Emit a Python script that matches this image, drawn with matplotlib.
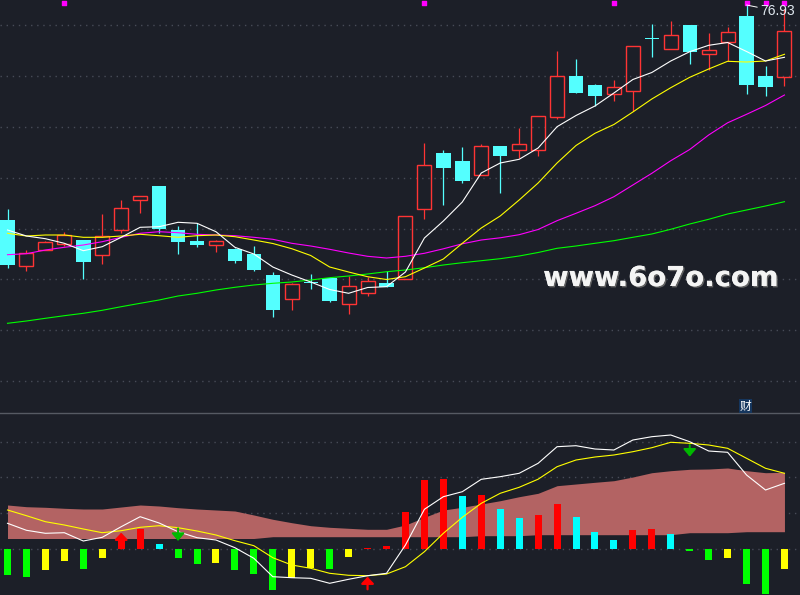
import matplotlib
matplotlib.use('Agg')
import matplotlib.pyplot as plt
import matplotlib.patheffects as pe
from matplotlib.lines import Line2D
import numpy as np

plt.rcParams['font.family'] = ['DejaVu Sans', 'Noto Sans CJK SC']

BG = '#1c1f28'
GRID = '#474b57'
RED = '#ff3434'
CYAN = '#54ffff'

# ---- price panel data ----
opens = [55.43, 50.80, 52.46, 53.06, 53.43, 51.96, 54.40, 57.40, 58.83, 54.43,
         53.33, 52.90, 52.53, 52.03, 49.93, 47.53, 49.23, 49.66, 47.00, 48.10,
         49.13, 49.56, 56.56, 62.13, 61.33, 59.90, 62.83, 62.40, 62.40, 65.76,
         69.80, 68.93, 68.00, 68.30, 73.60, 72.56, 74.93, 72.00, 73.20, 75.83,
         69.80, 69.76]
highs = [56.53, 52.43, 53.33, 54.23, 53.43, 56.03, 57.43, 57.80, 58.83, 54.83,
         55.10, 53.43, 52.63, 52.83, 50.20, 49.10, 50.03, 49.73, 49.86, 49.76,
         50.33, 55.80, 63.13, 62.43, 62.73, 63.03, 62.83, 64.63, 65.80, 72.33,
         71.53, 69.03, 69.43, 72.80, 75.03, 75.33, 74.93, 74.13, 74.73, 76.93,
         70.83, 76.53]
lows = [50.63, 50.33, 52.43, 52.86, 49.53, 51.06, 54.13, 56.16, 54.10, 52.06,
        52.76, 52.26, 51.10, 50.36, 45.70, 46.46, 48.50, 47.26, 46.00, 47.86,
        48.76, 49.56, 55.53, 56.96, 59.16, 59.90, 58.16, 61.60, 61.83, 65.50,
        68.16, 66.83, 67.36, 66.36, 71.76, 72.56, 71.06, 70.43, 71.30, 68.06,
        67.86, 68.86]
closes = [50.93, 52.13, 53.20, 53.93, 51.26, 53.80, 56.60, 57.80, 54.50, 53.26,
          52.96, 53.33, 51.36, 50.46, 46.46, 49.03, 49.17, 47.36, 48.80, 49.30,
          48.76, 55.80, 60.90, 60.66, 59.36, 62.80, 61.86, 63.00, 65.80, 69.80,
          68.16, 67.86, 68.70, 72.80, 73.53, 73.93, 72.26, 72.43, 74.20, 68.93,
          68.76, 74.30]
ma5 = [54.43, 53.83, 53.56, 53.10, 52.36, 52.76, 53.70, 54.70, 54.76, 55.20,
       55.10, 54.26, 52.70, 52.03, 50.73, 49.93, 49.23, 48.48, 48.10, 48.68,
       48.76, 50.23, 53.63, 55.33, 57.23, 60.13, 61.13, 61.50, 62.63, 64.76,
       65.88, 66.83, 68.13, 69.48, 70.18, 71.33, 72.26, 72.90, 73.18, 72.28,
       71.33, 71.70]
ma10 = [54.10, 53.83, 53.93, 53.93, 53.70, 53.70, 53.83, 54.00, 53.86, 53.70,
        53.86, 53.93, 53.76, 53.43, 53.08, 52.56, 51.88, 50.73, 50.23, 49.76,
        49.48, 49.76, 50.63, 51.53, 53.10, 54.63, 55.83, 57.43, 59.13, 61.13,
        62.88, 64.10, 64.98, 66.23, 67.53, 68.66, 69.70, 70.53, 71.30, 71.23,
        71.33, 72.00]
ma20 = [51.96, 52.06, 52.43, 52.70, 52.93, 53.26, 53.70, 54.10, 54.26, 54.16,
        54.00, 53.93, 53.86, 53.70, 53.50, 53.10, 52.83, 52.50, 52.13, 51.80,
        51.63, 51.80, 52.10, 52.55, 53.05, 53.43, 53.65, 53.96, 54.48, 55.36,
        56.10, 56.86, 57.76, 58.93, 60.10, 61.36, 62.48, 63.93, 65.15, 66.00,
        66.88, 67.93]
ma60 = [45.10, 45.33, 45.60, 45.86, 46.10, 46.40, 46.76, 47.10, 47.43, 47.83,
        48.10, 48.43, 48.70, 48.93, 49.10, 49.23, 49.43, 49.66, 49.83, 50.03,
        50.26, 50.43, 50.66, 50.93, 51.16, 51.36, 51.56, 51.83, 52.18, 52.60,
        52.83, 53.10, 53.36, 53.70, 54.03, 54.50, 55.03, 55.50, 56.03, 56.43,
        56.83, 57.26]
signal_idx = [3, 22, 32, 39, 40, 41]
price_grid = [39.33, 44.43, 49.50, 54.50, 59.60, 64.70, 69.80, 74.93]

# ---- indicator panel data ----
hist = [-2.65, -2.85, -2.15, -1.25, -2.05, -0.95, 1.08, 1.95, 0.45, -0.95,
        -1.55, -1.45, -2.15, -2.55, -4.15, -2.95, -1.95, -2.00, -0.85, 0.10,
        0.28, 3.65, 6.85, 6.95, 5.25, 5.35, 3.95, 3.05, 3.35, 4.45,
        3.15, 1.65, 0.85, 1.85, 1.95, 1.45, -0.25, -1.15, -0.95, -3.55,
        -4.55, -2.05]
band_top = [4.35, 4.18, 4.12, 4.02, 3.95, 3.95, 4.15, 4.35, 4.25, 4.08,
            3.95, 3.85, 3.75, 3.35, 2.92, 2.58, 2.28, 2.12, 2.02, 1.92,
            1.92, 2.35, 3.12, 3.85, 4.12, 4.45, 4.78, 5.18, 5.52, 6.28,
            6.45, 6.62, 6.78, 7.15, 7.58, 7.78, 7.92, 7.95, 8.05, 7.78,
            7.58, 7.62]
band_bottom = [1.0] * 14 + [1.18] * 11 + [1.28] * 3 + [1.38] * 8 + [1.58] * 3 + [1.68] * 3
fast_line = [2.52, 1.82, 1.52, 1.58, 0.75, 1.12, 2.18, 3.18, 2.55, 1.68,
             1.08, 0.85, 0.08, -0.98, -2.82, -2.92, -2.98, -3.48, -3.08, -2.72,
             -2.48, 0.35, 3.92, 5.18, 5.68, 6.92, 7.18, 7.52, 8.52, 10.18,
             10.28, 9.95, 9.85, 10.85, 11.18, 11.35, 10.68, 9.75, 9.62, 7.35,
             5.85, 6.52]
slow_line = [3.85, 3.28, 2.68, 2.35, 1.95, 1.58, 1.78, 2.12, 2.28, 2.08,
             1.75, 1.35, 0.78, 0.28, -0.92, -1.65, -1.98, -2.48, -2.68, -2.72,
             -2.55, -1.82, -0.32, 1.52, 3.12, 4.52, 5.52, 6.12, 6.93, 8.18,
             8.85, 9.15, 9.35, 9.68, 10.08, 10.62, 10.52, 10.35, 10.02, 9.02,
             8.02, 7.52]
# (index, tip, tail)
up_arrows = [(6, 1.58, 0.0), (19, -2.82, -4.08)]
down_arrows = [(9, 0.75, 2.02), (36, 9.18, 10.35)]
ind_grid = [0.0, 3.6, 7.2, 10.7]


def style_axis(ax, grid_levels):
    ax.set_facecolor(BG)
    for s in ax.spines.values():
        s.set_visible(False)
    ax.set_xticks([])
    ax.set_yticks(grid_levels)
    ax.tick_params(length=0, labelleft=False, labelbottom=False)
    ax.yaxis.grid(True, color=GRID, linestyle=(0, (1, 3.4)), linewidth=1.0)
    ax.set_axisbelow(True)


o = np.array(opens)
h = np.array(highs)
l = np.array(lows)
c = np.array(closes)
x = np.arange(len(o))
xlim = (-0.396, 41.82)

fig = plt.figure(figsize=(8, 5.95), dpi=100, facecolor=BG)
ax = fig.add_axes([0, 182 / 595, 1, 413 / 595])
ax2 = fig.add_axes([0, 0, 1, 182 / 595])

# ---- price panel ----
style_axis(ax, price_grid)
ax.set_xlim(*xlim)
ax.set_ylim(36.13, 77.43)

up = c >= o
dn = ~up
body_top = np.maximum(o, c)
body_bot = np.minimum(o, c)

ax.vlines(x[up], body_top[up], h[up], color=RED, lw=0.9, zorder=2)
ax.vlines(x[up], l[up], body_bot[up], color=RED, lw=0.9, zorder=2)
ax.bar(x[up], (body_top - body_bot)[up], bottom=body_bot[up], width=0.74,
       facecolor='none', edgecolor=RED, linewidth=1.0, zorder=2)

ax.vlines(x[dn], l[dn], h[dn], color=CYAN, lw=0.9, zorder=2)
ax.bar(x[dn], np.maximum(body_top - body_bot, 0.09)[dn], bottom=body_bot[dn], width=0.76,
       color=CYAN, linewidth=0, zorder=2)

for vals, col in [(ma60, '#00ff00'), (ma20, '#ff00ff'), (ma10, '#ffff00'), (ma5, '#ffffff')]:
    ax.plot(x, vals, color=col, lw=0.8, zorder=3)

ax.scatter(signal_idx, [0.992] * len(signal_idx), marker='s', s=9, color='#ff00ff',
           transform=ax.get_xaxis_transform(), zorder=4, clip_on=False)

peak_i = int(np.argmax(h))
ax.annotate(f"{h[peak_i]:.2f}", xy=(peak_i, h[peak_i]), xytext=(peak_i + 0.71, 76.30),
            ha='left', va='center', fontsize=10, color='#dfe7ef', family='Liberation Sans',
            arrowprops=dict(arrowstyle='-', color='#ffffff', lw=0.7, shrinkA=0, shrinkB=0),
            zorder=5)

ax.text(0.679, 0.3075, 'www.6o7o.com', transform=ax.transAxes, fontsize=19.8,
        fontweight='bold', color='#f4f4f4', ha='left', va='baseline', zorder=6,
        path_effects=[pe.withSimplePatchShadow(offset=(1, -1), shadow_rgbFace='#6a6a6a', alpha=0.9),
                      pe.Normal()])

# ---- indicator panel ----
style_axis(ax2, ind_grid)
ax2.set_xlim(*xlim)
ax2.set_ylim(-4.65, 13.55)

ax2.fill_between(x, band_bottom, band_top, color='#b36363', linewidth=0, zorder=1)

hv = np.array(hist)
prev = np.concatenate([[0.0], hv[:-1]])
colors = []
for v, p in zip(hv, prev):
    if v >= 0:
        colors.append('#ff0000' if v >= p else '#00ffff')
    else:
        colors.append('#00ff00' if v <= p else '#ffff00')
ax2.bar(x, hv, width=0.37, color=colors, linewidth=0, zorder=2)

ax2.plot(x, slow_line, color='#ffff00', lw=0.8, zorder=3)
ax2.plot(x, fast_line, color='#ffffff', lw=0.8, zorder=3)

for i, tip, tail in up_arrows:
    ax2.annotate('', xy=(i, tip), xytext=(i, tail),
                 arrowprops=dict(arrowstyle='-|>,head_length=0.4,head_width=0.38',
                                 color='#ff0000', lw=1.6, shrinkA=0, shrinkB=0), zorder=4)
for i, tip, tail in down_arrows:
    ax2.annotate('', xy=(i, tip), xytext=(i, tail),
                 arrowprops=dict(arrowstyle='-|>,head_length=0.45,head_width=0.38',
                                 color='#00b800', lw=1.4, shrinkA=0, shrinkB=0), zorder=4)

# panel separator and tag
fig.add_artist(Line2D([0, 1], [182 / 595, 182 / 595], color='#565a63', lw=1.0))
fig.text(745.5 / 800, 1 - 406 / 595, '财', fontsize=8.5, color='white',
         family=['Noto Sans CJK SC', 'DejaVu Sans'], ha='center', va='center',
         bbox=dict(boxstyle='square,pad=0.08', fc='#15365e', ec='none'))

fig.savefig('out.png', dpi=100, facecolor=BG)
